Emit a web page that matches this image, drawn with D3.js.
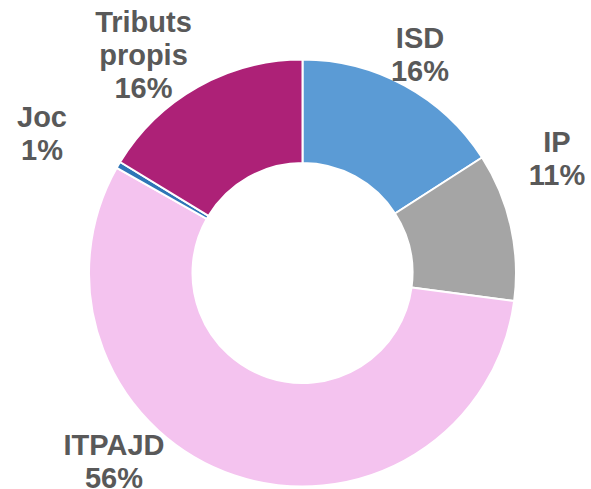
<!DOCTYPE html>
<html>
<head>
<meta charset="utf-8">
<script src="https://cdn.jsdelivr.net/npm/d3@7"></script>
<style>
  html, body { margin: 0; padding: 0; background: #fff; }
  svg text { font-family: "Liberation Sans", Arial, sans-serif; font-weight: bold; }
</style>
</head>
<body>
<div id="chart"></div>
<script>
// data
const categories = ['ISD', 'IP', 'ITPAJD', 'Joc', 'Tributs propis'];
const shares = [15.9, 11.2, 56.1, 0.5, 16.3];
const colors = ['#5B9BD5', '#A5A5A5', '#F4C3EF', '#2E75B6', '#AD2177'];

const width = 591;
const height = 489;
const cx = 302.5;
const cy = 273;
const outerR = 213.5;
const innerR = 110;

// label anchors (centre x, first baseline y), Excel "best fit" places them by hand
const labelAnchors = {
  'ISD': [420, 48],
  'IP': [557, 152],
  'ITPAJD': [114, 455],
  'Joc': [42, 127],
  'Tributs propis': [143.5, 32]
};

const svg = d3.select('#chart')
  .append('svg')
    .attr('width', width)
    .attr('height', height);

const data = categories.map((c, i) => ({ name: c, value: shares[i], color: colors[i] }));

const pie = d3.pie()
  .sort(null)
  .value(d => d.value);

const arc = d3.arc()
  .innerRadius(innerR)
  .outerRadius(outerR);

const g = svg.append('g')
  .attr('transform', `translate(${cx},${cy})`);

g.selectAll('path')
  .data(pie(data))
  .enter()
    .append('path')
    .attr('d', arc)
    .attr('fill', d => d.data.color)
    .attr('stroke', '#fff')
    .attr('stroke-width', 2)
    .attr('stroke-linejoin', 'round');

const labels = svg.selectAll('.lbl')
  .data(data)
  .enter()
    .append('text')
    .attr('class', 'lbl')
    .attr('text-anchor', 'middle')
    .attr('font-size', '29px')
    .attr('fill', '#595959');

labels.each(function(d) {
  const [x, y] = labelAnchors[d.name];
  const lines = d.name.split(' ').concat([Math.round(d.value) + '%']);
  d3.select(this).selectAll('tspan')
    .data(lines)
    .enter()
      .append('tspan')
      .attr('x', x)
      .attr('y', (t, i) => y + i * 33)
      .text(t => t);
});
</script>
</body>
</html>
